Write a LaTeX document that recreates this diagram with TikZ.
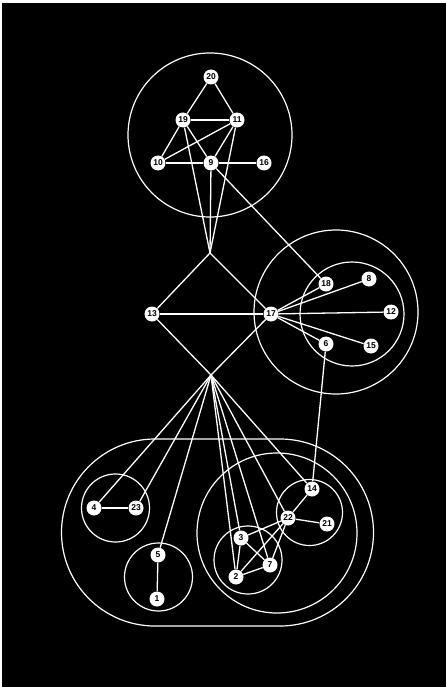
\documentclass[tikz,border=0pt]{standalone}
\usepackage{fontspec}
\setmainfont{Liberation Sans}
\begin{document}
\begin{tikzpicture}[x=1pt,y=-1pt,
  vx/.style={circle, fill=white, draw=none, minimum size=15pt, inner sep=0pt,
    font=\fontsize{8.5}{9}\selectfont\bfseries, text=black},
  edge/.style={draw=white, line width=1.3pt},
  ring/.style={draw=white, line width=1.2pt}]
\fill[white] (0,0) rectangle (446,687);
\fill[black] (2,3) rectangle (446,687);
% rings
\draw[ring] (210,135) circle[radius=82];
\draw[ring] (336,312) circle[radius=82];
\draw[ring] (352,314) circle[radius=52];
\draw[ring] (155,439) -- (280,439) arc(-90:90:93.5) -- (155,626) arc(90:270:93.5) -- cycle;
\draw[ring] (115.5,508) circle[radius=34];
\draw[ring] (158.5,577) circle[radius=34];
\draw[ring] (277,533) circle[radius=80];
\draw[ring] (309.5,512.5) circle[radius=33];
\draw[ring] (248,560) circle[radius=34];
% junctions
\coordinate (tA) at (210,253);
\coordinate (bA) at (211,375);
% vertices
\node[vx] (n20) at (211,77) {20};
\node[vx] (n19) at (183,120) {19};
\node[vx] (n11) at (237,120) {11};
\node[vx] (n10) at (158,163) {10};
\node[vx] (n9) at (211,163) {9};
\node[vx] (n16) at (264,163) {16};
\node[vx] (n13) at (152,314) {13};
\node[vx] (n17) at (271,314) {17};
\node[vx] (n18) at (326,284) {18};
\node[vx] (n8) at (369,279) {8};
\node[vx] (n12) at (391,312) {12};
\node[vx] (n6) at (326,344) {6};
\node[vx] (n15) at (371,346) {15};
\node[vx] (n4) at (94,508) {4};
\node[vx] (n23) at (136,508) {23};
\node[vx] (n5) at (158,555) {5};
\node[vx] (n1) at (157,599) {1};
\node[vx] (n14) at (312,489) {14};
\node[vx] (n22) at (288,518) {22};
\node[vx] (n21) at (327,524) {21};
\node[vx] (n3) at (241,538) {3};
\node[vx] (n7) at (270,565) {7};
\node[vx] (n2) at (236,577) {2};
% edges
\foreach \a/\b in {n20/n19,n20/n11,n19/n11,n19/n10,n19/n9,n11/n10,n11/n9,n10/n9,n9/n16,
  tA/n19,tA/n9,tA/n11,n9/n18,
  tA/n13,tA/n17,n13/n17,n13/bA,n17/bA,
  n17/n18,n17/n8,n17/n12,n17/n15,n17/n6,n6/n14,
  bA/n4,bA/n23,bA/n5,bA/n2,bA/n3,bA/n7,bA/n22,bA/n14,
  n4/n23,n5/n1,
  n14/n22,n22/n21,n22/n3,n22/n2,n22/n7,n3/n2,n3/n7,n2/n7}
  \draw[edge] (\a) -- (\b);
\end{tikzpicture}
\end{document}
